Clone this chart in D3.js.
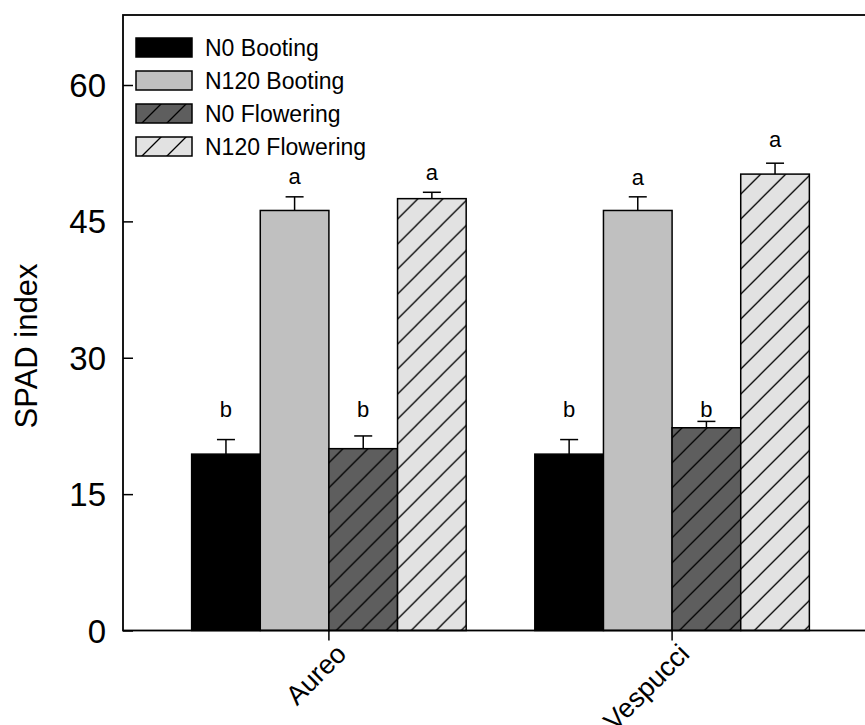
<!DOCTYPE html>
<html>
<head>
<meta charset="utf-8">
<script src="https://cdn.jsdelivr.net/npm/d3@7"></script>
<style>
body{margin:0;background:#fff;}
svg{display:block;font-family:"Liberation Sans",Arial,sans-serif;}
</style>
</head>
<body>
<svg id="chart"></svg>
<script>
const cultivars=["Aureo","Vespucci"];
const seriesNames=["N0 Booting","N120 Booting","N0 Flowering","N120 Flowering"];
const means=[
    [19.4,46.2,20.0,47.5],
    [19.4,46.2,22.3,50.2]
];
const errors=[
    [1.6,1.5,1.4,0.7],
    [1.6,1.5,0.7,1.2]
];
const letters=[
    ["b","a","b","a"],
    ["b","a","b","a"]
];
// 文字の高さ（SPAD値）
const letterLevels=[
    [23.5,49.1,23.5,49.5],
    [23.5,49.0,23.5,53.2]
];
const yTicks=[0,15,30,45,60];

const W=865,H=725;
const plotLeft=123,plotTop=15,plotBottom=630.5,plotRight=878;

const svg=d3.select("#chart").attr("width",W).attr("height",H);

// ---------- 模様 ----------
const defs=svg.append("defs");
function hatch(id,bg){
    const p=defs.append("pattern")
        .attr("id",id)
        .attr("patternUnits","userSpaceOnUse")
        .attr("width",25)
        .attr("height",25);
    p.append("rect").attr("width",25).attr("height",25).attr("fill",bg);
    p.append("path")
        .attr("d","M0,25 L25,0 M-5,5 L5,-5 M20,30 L30,20")
        .attr("stroke","#000")
        .attr("stroke-width",1.3);
}
hatch("hatchDark","#5e5e5e");
hatch("hatchLight","#e2e2e2");
const fills=["#000","#c0c0c0","url(#hatchDark)","url(#hatchLight)"];

// ---------- スケール ----------
const y=d3.scaleLinear().domain([0,67.7]).range([plotBottom,plotTop]);
const x0=d3.scaleBand().domain(cultivars).range([plotLeft,plotRight]).paddingInner(0.2).paddingOuter(0.2);
const x1=d3.scaleBand().domain(seriesNames).range([0,x0.bandwidth()]);

// ---------- 棒 ----------
const groups=svg.append("g").selectAll("g")
    .data(cultivars)
    .join("g")
    .attr("transform",d=>`translate(${x0(d)},0)`);

groups.each(function(c,ci){
    const g=d3.select(this);
    seriesNames.forEach((s,si)=>{
        const v=means[ci][si];
        const e=errors[ci][si];
        const cx=x1(s)+x1.bandwidth()/2;
        g.append("rect")
            .attr("x",x1(s))
            .attr("y",y(v))
            .attr("width",x1.bandwidth())
            .attr("height",y(0)-y(v))
            .attr("fill",fills[si])
            .attr("stroke","#000")
            .attr("stroke-width",1.5);
        g.append("line")
            .attr("x1",cx).attr("x2",cx)
            .attr("y1",y(v)).attr("y2",y(v+e))
            .attr("stroke","#000").attr("stroke-width",1.5);
        g.append("line")
            .attr("x1",cx-9).attr("x2",cx+9)
            .attr("y1",y(v+e)).attr("y2",y(v+e))
            .attr("stroke","#000").attr("stroke-width",1.5);
        g.append("text")
            .attr("x",cx)
            .attr("y",y(letterLevels[ci][si]))
            .attr("text-anchor","middle")
            .attr("font-size",22)
            .text(letters[ci][si]);
    });
});

// ---------- 軸 ----------
const yAxis=svg.append("g")
    .attr("transform",`translate(${plotLeft},0)`)
    .call(d3.axisLeft(y).tickValues(yTicks).tickSize(-10).tickPadding(17));
yAxis.select(".domain").remove();
yAxis.selectAll("line").attr("stroke","#000").attr("stroke-width",1.5);
yAxis.selectAll("text").attr("font-size",33).attr("fill","#000").attr("dy","0.35em")
    .attr("font-family","Liberation Sans,Arial,sans-serif");

const xAxis=svg.append("g")
    .attr("transform",`translate(0,${plotBottom})`)
    .call(d3.axisBottom(x0).tickSize(10));
xAxis.select(".domain").remove();
xAxis.selectAll("line").attr("stroke","#000").attr("stroke-width",1.5);
xAxis.selectAll("text").remove();

svg.append("g").selectAll("text")
    .data(cultivars)
    .join("text")
    .attr("transform",d=>`translate(${x0(d)+x0.bandwidth()/2+19},${plotBottom+25}) rotate(-45)`)
    .attr("text-anchor","end")
    .attr("font-size",27)
    .text(d=>d);

// 枠
svg.append("rect")
    .attr("x",plotLeft).attr("y",plotTop)
    .attr("width",plotRight-plotLeft).attr("height",plotBottom-plotTop)
    .attr("fill","none")
    .attr("stroke","#000")
    .attr("stroke-width",1.8);

svg.append("text")
    .attr("transform",`translate(37,346) rotate(-90)`)
    .attr("text-anchor","middle")
    .attr("font-size",31)
    .text("SPAD index");

// ---------- 凡例 ----------
const legend=svg.append("g").selectAll("g")
    .data(seriesNames)
    .join("g")
    .attr("transform",(d,i)=>`translate(136,${38+i*33})`);
legend.append("rect")
    .attr("width",56).attr("height",19)
    .attr("fill",(d,i)=>fills[i])
    .attr("stroke","#000").attr("stroke-width",1.5);
legend.append("text")
    .attr("x",69).attr("y",10).attr("dy","0.35em")
    .attr("font-size",23)
    .text(d=>d);
</script>
</body>
</html>
